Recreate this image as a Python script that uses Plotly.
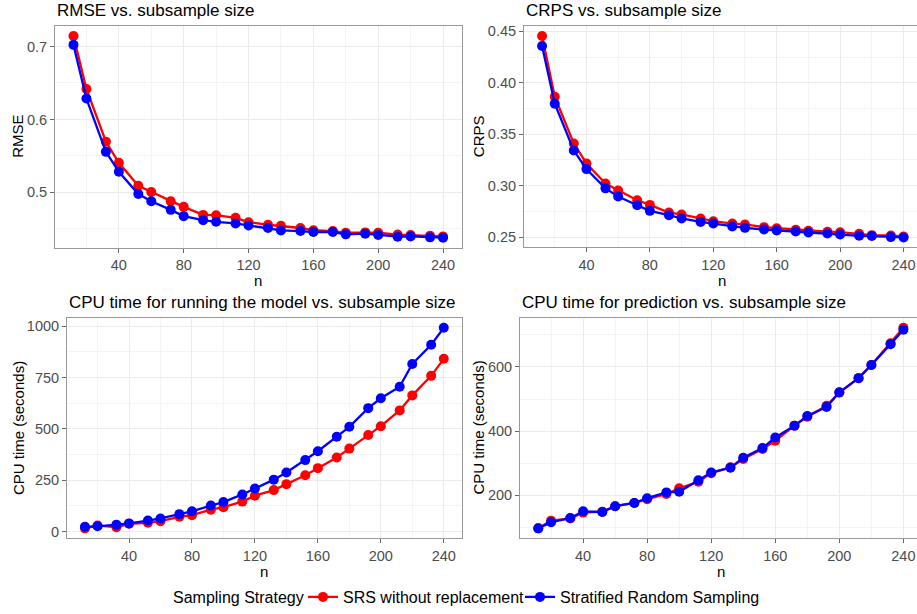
import plotly.graph_objects as go

# ---------------- data ----------------
n_values = [12, 20, 32, 40, 52, 60, 72, 80, 92, 100, 112, 120,
            132, 140, 152, 160, 172, 180, 192, 200, 212, 220, 232, 240]

series_names = ["SRS without replacement", "Stratified Random Sampling"]

rmse_srs = [0.7145, 0.6418, 0.5695, 0.5405, 0.5090, 0.5005, 0.4877, 0.4800,
            0.4690, 0.4686, 0.4650, 0.4590, 0.4555, 0.4540, 0.4510, 0.4480,
            0.4468, 0.4445, 0.4450, 0.4445, 0.4420, 0.4414, 0.4405, 0.4395]
rmse_strat = [0.7023, 0.6286, 0.5555, 0.5282, 0.4977, 0.4877, 0.4759, 0.4673,
              0.4618, 0.4595, 0.4573, 0.4545, 0.4509, 0.4477, 0.4468, 0.4455,
              0.4455, 0.4423, 0.4432, 0.4414, 0.4391, 0.4395, 0.4382, 0.4377]

crps_srs = [0.4455, 0.3865, 0.3410, 0.3216, 0.3020, 0.2952, 0.2858, 0.2813,
            0.2739, 0.2720, 0.2680, 0.2655, 0.2632, 0.2623, 0.2597, 0.2587,
            0.2571, 0.2561, 0.2552, 0.2548, 0.2532, 0.2519, 0.2516, 0.2506]
crps_strat = [0.4358, 0.3797, 0.3342, 0.3161, 0.2974, 0.2894, 0.2810, 0.2755,
              0.2713, 0.2681, 0.2648, 0.2632, 0.2603, 0.2590, 0.2574, 0.2565,
              0.2555, 0.2545, 0.2535, 0.2526, 0.2513, 0.2510, 0.2500, 0.2497]

cpu_model_srs = [16, 30, 21, 38, 43, 51, 72, 80, 107, 119, 146, 175,
                 202, 231, 274, 309, 361, 404, 470, 513, 590, 663, 758, 841]
cpu_model_strat = [24, 26, 34, 40, 54, 64, 85, 99, 127, 144, 181, 210,
                   253, 288, 348, 391, 462, 510, 601, 649, 705, 816, 909, 992]

cpu_pred_srs = [97, 121, 128, 146, 149, 166, 176, 188, 204, 222, 242, 269,
                287, 313, 344, 370, 417, 445, 479, 520, 565, 606, 674, 722]
cpu_pred_strat = [97, 116, 129, 150, 148, 166, 176, 191, 209, 211, 247, 271,
                  286, 317, 347, 380, 417, 447, 475, 521, 565, 606, 671, 716]

panel_titles = ["RMSE vs. subsample size",
                "CRPS vs. subsample size",
                "CPU time for running the model vs. subsample size",
                "CPU time for prediction vs. subsample size"]
y_titles = ["RMSE", "CRPS", "CPU time (seconds)", "CPU time (seconds)"]
x_title = "n"
legend_title = "Sampling Strategy"

# ---------------- layout helpers ----------------
W, H = 917, 614
colors = ["#FF0000", "#0000FF"]


def px_x(p):
    return p / W


def px_y(p):
    return 1 - p / H


def expand(vals, mult=0.05):
    lo, hi = min(vals), max(vals)
    d = (hi - lo) * mult
    return [lo - d, hi + d]


panels = [
    dict(data=(rmse_srs, rmse_strat), xd=(55, 461.5), yd=(24, 247),
         dtick=0.1, minor=0.05, fmt=".1f", xmax=None, ytx=18, xtx=258, xty=279.5),
    dict(data=(crps_srs, crps_strat), xd=(524, W), yd=(24, 246.7),
         dtick=0.05, minor=0.025, fmt=".2f", xmax=248.5, ytx=478.5, xtx=722, xty=279.5),
    dict(data=(cpu_model_srs, cpu_model_strat), xd=(67, 461.7), yd=(317.3, 539),
         dtick=250, minor=125, fmt="d", xmax=None, ytx=18, xtx=264, xty=572),
    dict(data=(cpu_pred_srs, cpu_pred_strat), xd=(520, W), yd=(317.3, 539),
         dtick=200, minor=100, fmt="d", xmax=248.5, ytx=478.5, xtx=721, xty=572),
]

fig = go.Figure()
layout = dict(
    width=W, height=H,
    margin=dict(l=0, r=0, t=0, b=0),
    paper_bgcolor="white", plot_bgcolor="white",
    font=dict(family="Liberation Sans, Arial, sans-serif", color="black"),
    showlegend=True,
    hovermode=False,
)
annotations = []
legend_ids = ["legend", "legend2"]

xr_full = expand(n_values)

for i, p in enumerate(panels):
    k = "" if i == 0 else str(i + 1)
    xa, ya = "x" + k, "y" + k
    for s in range(2):
        fig.add_trace(go.Scatter(
            x=n_values, y=p["data"][s], name=series_names[s],
            mode="lines+markers",
            line=dict(color=colors[s], width=2.3),
            marker=dict(color=colors[s], size=10),
            xaxis=xa, yaxis=ya, showlegend=(i == 0),
            legendgroup=series_names[s], legend=legend_ids[s],
        ))
    xr = [xr_full[0], p["xmax"] if p["xmax"] else xr_full[1]]
    yr = expand(p["data"][0] + p["data"][1])
    right_open = p["xd"][1] >= W
    layout["xaxis" + k] = dict(
        domain=[px_x(p["xd"][0]), px_x(p["xd"][1])],
        anchor=ya, range=xr, tick0=0, dtick=40,
        showgrid=True, gridcolor="#ebebeb", gridwidth=1,
        minor=dict(dtick=20, tick0=0, showgrid=True, gridcolor="#f4f4f4",
                   gridwidth=1, ticks=""),
        ticks="outside", ticklen=4, tickcolor="#666666", tickwidth=1,
        tickfont=dict(size=14.5, color="#4d4d4d"),
        showline=True, linecolor="#999999", linewidth=1, mirror=True,
        zeroline=False,
    )
    layout["yaxis" + k] = dict(
        domain=[px_y(p["yd"][1]), px_y(p["yd"][0])],
        anchor=xa, range=yr, tick0=0, dtick=p["dtick"],
        tickformat=p["fmt"],
        showgrid=True, gridcolor="#ebebeb", gridwidth=1,
        minor=dict(dtick=p["minor"], tick0=0, showgrid=True,
                   gridcolor="#f4f4f4", gridwidth=1, ticks=""),
        ticks="outside", ticklen=4, tickcolor="#666666", tickwidth=1,
        tickfont=dict(size=14.5, color="#4d4d4d"),
        showline=True, linecolor="#999999", linewidth=1,
        mirror=(False if right_open else True),
        zeroline=False,
    )
    # panel title
    annotations.append(dict(
        text=panel_titles[i], xref="paper", yref="paper",
        x=px_x(p["xd"][0]), y=px_y(p["yd"][0]),
        xanchor="left", yanchor="bottom", yshift=4,
        showarrow=False, font=dict(size=17, color="black"),
    ))
    # x axis title
    annotations.append(dict(
        text=x_title, xref="paper", yref="paper",
        x=px_x(p["xtx"]), y=px_y(p["xty"]), xanchor="center", yanchor="middle",
        showarrow=False, font=dict(size=15, color="black"),
    ))
    # y axis title
    annotations.append(dict(
        text=y_titles[i], xref="paper", yref="paper", textangle=-90,
        x=px_x(p["ytx"]), y=px_y((p["yd"][0] + p["yd"][1]) / 2),
        xanchor="center", yanchor="middle",
        showarrow=False, font=dict(size=15, color="black"),
    ))

# legend title placed just left of the legend keys
annotations.append(dict(
    text=legend_title, xref="paper", yref="paper",
    x=px_x(306), y=px_y(598), xanchor="right", yanchor="middle",
    showarrow=False, font=dict(size=16, color="black"),
))

layout["annotations"] = annotations
common_leg = dict(
    orientation="h", xanchor="left", y=px_y(598), yanchor="middle",
    font=dict(size=16, color="black"),
    itemwidth=30, bgcolor="rgba(0,0,0,0)",
)
layout["legend"] = dict(x=px_x(303), **common_leg)
layout["legend2"] = dict(x=px_x(520), **common_leg)
fig.update_layout(**layout)

fig.write_html("out.html", config={"displayModeBar": False})
